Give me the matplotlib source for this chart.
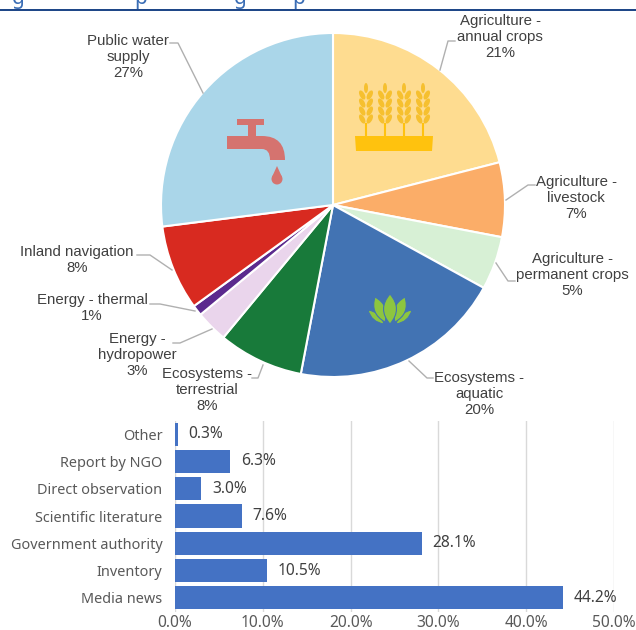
import matplotlib
matplotlib.use('Agg')
import matplotlib.pyplot as plt
from matplotlib.patches import Ellipse, PathPatch, Polygon, Rectangle
from matplotlib.path import Path

W, H = 636, 630

# water use shares per sector
sectors = ['Agriculture -\nannual crops', 'Agriculture -\nlivestock', 'Agriculture -\npermanent crops',
           'Ecosystems -\naquatic', 'Ecosystems -\nterrestrial', 'Energy -\nhydropower',
           'Energy - thermal', 'Inland navigation', 'Public water\nsupply']
shares = [21, 7, 5, 20, 8, 3, 1, 8, 27]
sector_colors = ['#FEDC90', '#FBAD68', '#D7F0D5', '#4273B3', '#187A3A', '#EAD5EC', '#5B2A8E', '#D82A20', '#AAD6E9']

# information sources
sources = ['Media news', 'Inventory', 'Government authority', 'Scientific literature',
           'Direct observation', 'Report by NGO', 'Other']
source_pct = [44.2, 10.5, 28.1, 7.6, 3.0, 6.3, 0.3]
x_ticks = [0, 10, 20, 30, 40, 50]

fig = plt.figure(figsize=(W / 100, H / 100), dpi=100, facecolor='white')


def px_axes(x0, y0, x1, y1):
    return fig.add_axes([x0 / W, 1 - y1 / H, (x1 - x0) / W, (y1 - y0) / H])


# pie
ax_pie = px_axes(161, 33, 505, 377)
ax_pie.pie(shares, colors=sector_colors, startangle=90, counterclock=False, radius=1,
           wedgeprops={'edgecolor': 'white', 'linewidth': 1.5})
ax_pie.set_xlim(-1, 1)
ax_pie.set_ylim(-1, 1)

# bars
ax_bar = px_axes(175, 420.5, 614, 611.5)
ax_bar.barh(sources, source_pct, height=0.85, color='#4472C4')
ax_bar.set_xlim(0, 50)
ax_bar.set_ylim(-0.5, 6.5)
ax_bar.set_xticks(x_ticks)
ax_bar.set_xticklabels([f'{t:.1f}%' for t in x_ticks], fontfamily='Noto Sans', fontsize=11.2, color='#595959')
ax_bar.tick_params(axis='y', length=0, pad=9)
ax_bar.tick_params(axis='x', length=0, pad=2.5)
for lab in ax_bar.get_yticklabels():
    lab.set_fontfamily('Noto Sans')
    lab.set_fontsize(10.4)
    lab.set_color('#595959')
ax_bar.grid(axis='x', color='#D9D9D9', linewidth=1)
ax_bar.set_axisbelow(True)
for s in ax_bar.spines.values():
    s.set_visible(False)
for i, v in enumerate(source_pct):
    ax_bar.text(v + 1.2, i, f'{v:.1f}%', va='center', ha='left', fontfamily='Noto Sans',
                fontsize=11.2, color='#404040')

# overlay in pixel coordinates for labels, leaders and icons
ov = fig.add_axes([0, 0, 1, 1], facecolor='none')
ov.set_xlim(0, W)
ov.set_ylim(H, 0)
ov.axis('off')

# header rule and the clipped heading above it
ov.add_patch(Rectangle((0, 8.5), W, 2.5, color='#1F4788', lw=0))
for x, ch in [(12, 'g'), (134, 'p'), (234, 'g'), (292, 'p')]:
    t = ov.text(x, 4, ch, fontsize=15, color='#3A6DB5', family='Noto Sans', va='baseline')
    t.set_clip_path(Rectangle((0, 0), W, 8, transform=ov.transData))

label_pos = [(500, 37), (576, 198), (572, 275), (479, 394), (207, 390), (137, 355), (92, 308), (77, 260), (128, 57)]
for name, share, (x, y) in zip(sectors, shares, label_pos):
    ov.text(x, y, f'{name}\n{share}%', ha='center', va='center', fontsize=10.8, color='#404040',
            family='Liberation Sans', linespacing=1.22)

leaders = [
    [(455, 41), (448, 41), (440, 70)],
    [(535, 185), (528, 185), (506, 200)],
    [(515, 281), (508, 281), (496, 263)],
    [(433, 378), (427, 378), (409, 361)],
    [(252, 378), (258, 378), (263, 365)],
    [(173, 343), (180, 343), (212, 329)],
    [(150, 304), (160, 304), (195, 311)],
    [(137, 255), (150, 255), (172, 270)],
    [(170, 43), (178, 43), (203, 93)],
]
for pts in leaders:
    ov.plot(*zip(*pts), color='#B0B0B0', lw=1)

# tap icon
tap = '#D5736F'
ov.add_patch(Rectangle((237, 119), 27, 6, color=tap, lw=0))
ov.add_patch(Rectangle((248, 125), 8, 12, color=tap, lw=0))
spout = Path([(227, 136), (262, 136), (285, 136), (285, 160), (270, 160), (270, 149), (262, 149), (227, 149), (227, 136)],
             [Path.MOVETO, Path.LINETO, Path.CURVE3, Path.CURVE3, Path.LINETO, Path.CURVE3, Path.CURVE3,
              Path.LINETO, Path.CLOSEPOLY])
ov.add_patch(PathPatch(spout, color=tap, lw=0))
ov.add_patch(Ellipse((277, 179), 11, 11, color=tap, lw=0))
ov.add_patch(Polygon([(277, 166), (272, 177), (282, 177)], color=tap, lw=0))

# wheat icon
gold = '#FFC20E'
ear = '#F6C02F'
ov.add_patch(Polygon([(355, 136), (433, 136), (432, 151), (356, 151)], color=gold, lw=0))
for sx in (366, 385, 404, 423):
    ov.plot([sx, sx], [124, 137], color=gold, lw=1.5)
    ov.add_patch(Ellipse((sx, 88), 4, 10, color=ear, lw=0))
    for gy in (95, 103, 111, 119):
        ov.add_patch(Ellipse((sx - 3.8, gy), 5, 10, angle=-28, color=ear, lw=0))
        ov.add_patch(Ellipse((sx + 3.8, gy), 5, 10, angle=28, color=ear, lw=0))


# lotus icon
def petal(base, tip, bulge):
    bx, by = base
    tx, ty = tip
    dx, dy = tx - bx, ty - by
    nx, ny = -dy, dx
    norm = (nx ** 2 + ny ** 2) ** 0.5
    nx, ny = nx / norm * bulge, ny / norm * bulge
    mx, my = bx + dx * 0.5, by + dy * 0.5
    verts = [base, (mx + nx, my + ny), tip, (mx - nx, my - ny), base]
    codes = [Path.MOVETO, Path.CURVE3, Path.CURVE3, Path.CURVE3, Path.CURVE3]
    return PathPatch(Path(verts, codes), facecolor='#8DC63F', edgecolor='#4273B3', lw=0.8)


for base, tip, b in [((384, 324), (368, 310), 7), ((396, 324), (412, 310), 7),
                     ((385, 322), (375, 297), 11), ((395, 322), (405, 297), 11),
                     ((390, 324), (390, 294), 13)]:
    ov.add_patch(petal(base, tip, b))

fig.savefig('out.png', dpi=100, facecolor='white')
